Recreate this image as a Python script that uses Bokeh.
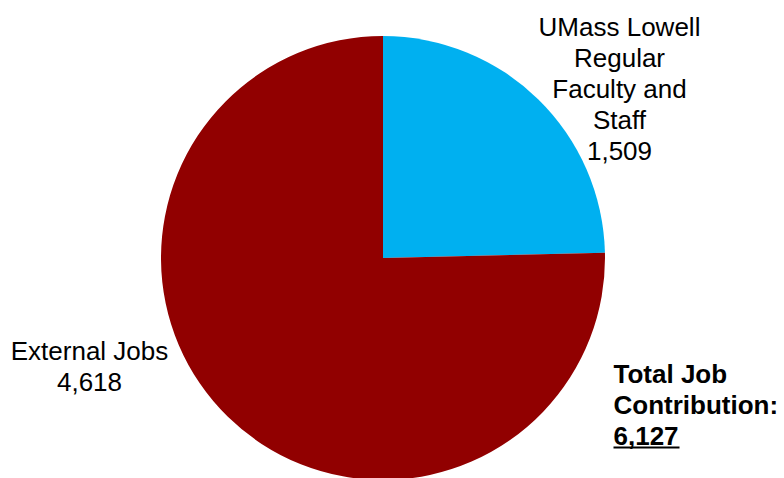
import math
from bokeh.plotting import figure
from bokeh.models import Range1d, ColumnDataSource
from bokeh.core.properties import value
from bokeh.embed import file_html
from bokeh.resources import INLINE

# ---- data ----
categories = ["UMass Lowell Regular Faculty and Staff", "External Jobs"]
jobs = [1509, 4618]
colors = ["#00B0F0", "#910000"]
total_label = "Total Job Contribution:"

total = sum(jobs)

# page-pixel-like coordinates (y negated)
W, H = 784, 478
p = figure(width=W, height=H, output_backend="svg", toolbar_location=None,
           x_range=Range1d(0, W), y_range=Range1d(-H, 0),
           min_border=0, outline_line_color=None)
p.axis.visible = False
p.xgrid.visible = False
p.ygrid.visible = False
p.background_fill_color = "white"
p.border_fill_color = "white"

cx, cy, r = 382.5, -257.5, 222

# first slice starts at 12 o'clock going clockwise
starts, ends = [], []
a = math.pi / 2
for v in jobs:
    ang = 2 * math.pi * v / total
    starts.append(a - ang)
    ends.append(a)
    a -= ang

src = ColumnDataSource(dict(start=starts, end=ends, color=colors))
p.wedge(x=cx, y=cy, radius=r, start_angle="start", end_angle="end",
        fill_color="color", line_color=None, source=src)

font = value("Liberation Sans")

# UMass label
lines1 = ["UMass Lowell", "Regular", "Faculty and", "Staff", f"{jobs[0]:,}"]
ys1 = [-26, -57, -88, -119, -150]
p.text(x=[619] * len(lines1), y=ys1, text=lines1, text_font=font,
       text_font_size="26px", text_align="center", text_baseline="middle",
       text_color="black")

# External label
lines2 = ["External Jobs", f"{jobs[1]:,}"]
ys2 = [-350, -381]
p.text(x=[89] * len(lines2), y=ys2, text=lines2, text_font=font,
       text_font_size="26px", text_align="center", text_baseline="middle",
       text_color="black")

# Total label
lines3 = ["Total Job", "Contribution:", f"{total:,}"]
ys3 = [-373, -404, -435]
p.text(x=[613] * len(lines3), y=ys3, text=lines3, text_font=font,
       text_font_size="26px", text_font_style="bold", text_align="left",
       text_baseline="middle", text_color="black")
p.segment(x0=[613], y0=[-447], x1=[679], y1=[-447], line_color="black", line_width=2)

open("out.html", "w").write(file_html(p, INLINE))
